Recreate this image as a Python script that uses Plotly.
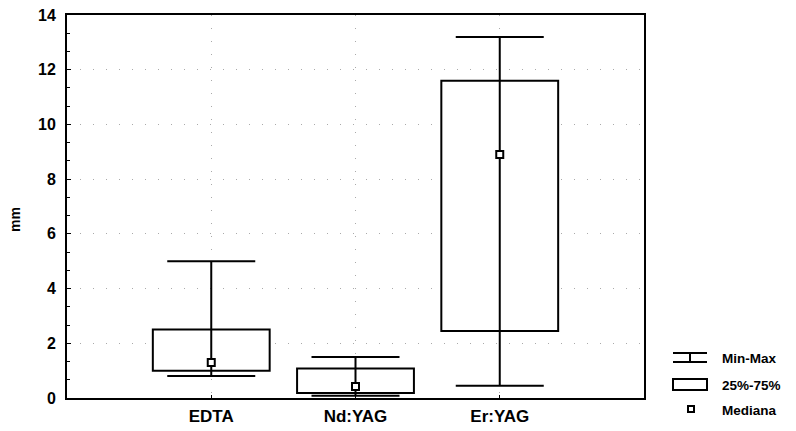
import plotly.graph_objects as go

categories = ["EDTA", "Nd:YAG", "Er:YAG"]
minimum = [0.8, 0.08, 0.45]
q1 = [1.0, 0.18, 2.45]
median = [1.3, 0.42, 8.9]
q3 = [2.5, 1.08, 11.6]
maximum = [5.0, 1.5, 13.2]
y_ticks = [0, 2, 4, 6, 8, 10, 12, 14]
legend_labels = ["Min-Max", "25%-75%", "Mediana"]

FONT = "Liberation Sans, Arial, sans-serif"
W, H = 796, 431
L, R, T, B = 67, 644, 15, 398

def px(x):
    return (x - L) / (R - L)

def py(y):
    return (B - y) / (B - T)

xs = list(range(len(categories)))

fig = go.Figure()
fig.add_trace(go.Bar(
    x=xs, base=q1, y=[b - a for a, b in zip(q1, q3)], width=0.81,
    marker=dict(color="white", line=dict(color="black", width=2)),
    showlegend=False, hoverinfo="skip",
))
fig.add_trace(go.Scatter(
    x=xs, y=median, mode="markers",
    marker=dict(symbol="square", size=7, color="white", line=dict(color="black", width=2)),
    error_y=dict(type="data", symmetric=False,
                 array=[mx - md for mx, md in zip(maximum, median)],
                 arrayminus=[md - mn for md, mn in zip(median, minimum)],
                 color="black", thickness=2, width=44),
    showlegend=False,
))

shapes = []
for yy in (353, 362):
    shapes.append(dict(type="line", xref="paper", yref="paper", x0=px(673), x1=px(707),
                       y0=py(yy), y1=py(yy), line=dict(color="black", width=2)))
shapes.append(dict(type="line", xref="paper", yref="paper", x0=px(690), x1=px(690),
                   y0=py(353), y1=py(362), line=dict(color="black", width=2)))
shapes.append(dict(type="rect", xref="paper", yref="paper", x0=px(673), x1=px(707),
                   y0=py(379), y1=py(390), line=dict(color="black", width=2), fillcolor="white"))
shapes.append(dict(type="rect", xref="paper", yref="paper", x0=px(688), x1=px(694),
                   y0=py(406), y1=py(412), line=dict(color="black", width=2), fillcolor="white"))

annotations = []
for lab, yy in zip(legend_labels, (358, 385, 410)):
    annotations.append(dict(text=f"<b>{lab}</b>", xref="paper", yref="paper", x=px(720), y=py(yy),
                            xanchor="left", yanchor="middle", showarrow=False,
                            font=dict(family=FONT, size=13.5, color="black")))
annotations.append(dict(text="<b>mm</b>", xref="paper", yref="paper", x=px(15), y=py(220), textangle=-90,
                        xanchor="center", yanchor="middle", showarrow=False,
                        font=dict(family=FONT, size=14, color="black")))

fig.update_layout(
    width=W, height=H,
    margin=dict(l=L, r=W - R, t=T, b=H - B, autoexpand=False),
    paper_bgcolor="white", plot_bgcolor="white",
    shapes=shapes, annotations=annotations,
    showlegend=False,
    xaxis=dict(range=[-1, 3], tickmode="array", tickvals=xs,
               ticktext=[f"<b>{c}</b>" for c in categories],
               tickfont=dict(family=FONT, size=17, color="black"),
               showline=True, linecolor="black", linewidth=2, mirror=True,
               ticks="inside", ticklen=3, tickcolor="black", ticklabelstandoff=2,
               showgrid=True, gridcolor="#aaa", griddash="1px,12px", gridwidth=1,
               zeroline=False, automargin=False),
    yaxis=dict(range=[0, 14], tickmode="array", tickvals=y_ticks,
               ticktext=[f"<b>{v}</b>" for v in y_ticks],
               tickfont=dict(family=FONT, size=16, color="black"),
               showline=True, linecolor="black", linewidth=2, mirror=True,
               ticks="inside", ticklen=4, tickcolor="black", ticklabelstandoff=6,
               minor=dict(dtick=2 / 3, tick0=0, ticks="inside", ticklen=3, tickcolor="black", showgrid=False),
               showgrid=True, gridcolor="#aaa", griddash="1px,12px", gridwidth=1,
               zeroline=False, automargin=False),
)

fig.write_html("out.html")
